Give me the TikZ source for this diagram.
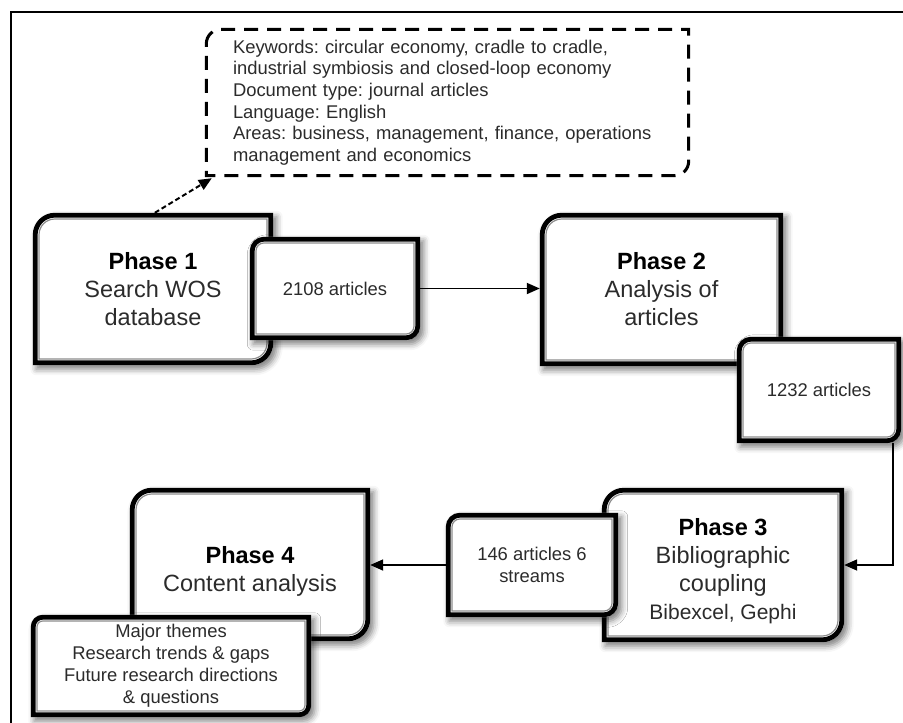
\documentclass[tikz,border=0pt]{standalone}
\usepackage{fontspec}
\setmainfont{Liberation Sans}
\usetikzlibrary{calc,arrows.meta,backgrounds,shadows.blur}
\definecolor{txt}{HTML}{2B2B2B}
\definecolor{innerline}{HTML}{8C8C8C}
\frenchspacing
\tikzset{
  big/.style={font=\fontsize{23.5}{28}\selectfont, text=txt, align=center, inner sep=0pt},
  small/.style={font=\fontsize{18.4}{22}\selectfont, text=txt, align=center, inner sep=0pt},
  kwtext/.style={font=\fontsize{18.4}{21.6}\selectfont, text=txt, align=left, inner sep=0pt, text width=429pt},
  arr/.style={line width=1.8pt, -{Triangle[length=13pt,width=11pt]}},
  dasharr/.style={line width=2pt, dash pattern=on 5pt off 3pt, -{Triangle[length=13pt,width=11pt]}},
  kwframe/.style={line width=3pt, dash pattern=on 14pt off 9pt},
  thickline/.style={line width=4.8pt, black},
  innerrule/.style={line width=1.2pt, innerline},
  boxshadow/.style={blur shadow={shadow xshift=3.5pt, shadow yshift=-4pt, shadow blur radius=6pt, shadow opacity=50}},
}
% path with rounded top-left and bottom-right corners, inset #3
\newcommand\myfpath[3]{($(#1.north west)+(#3,-#2)$) arc[start angle=180,end angle=90,radius=#2pt-#3pt] -- ($(#1.north east)+(-#3,-#3)$) -- ($(#1.south east)+(-#3,#2)$) arc[start angle=0,end angle=-90,radius=#2pt-#3pt] -- ($(#1.south west)+(#3,#3)$) -- cycle}
\newcommand\myphaseframe[2]{%
  \path[boxshadow, fill=white] \myfpath{#1}{#2}{0};
  \draw[thickline] \myfpath{#1}{#2}{2.4};
  \draw[innerrule] \myfpath{#1}{#2}{6.2};
}
\begin{document}
\begin{tikzpicture}[x=1pt,y=1pt]
\useasboundingbox (0,0) rectangle (903,-723);
% outer frame (cropped)
\draw[line width=2pt] (11,-723) -- (11,-12) -- (903,-12);

% nodes
\node[big, minimum width=240pt, minimum height=152pt] (p1) at (153,-289) {\textcolor{black}{\textbf{Phase 1}}\\Search WOS\\database};
\node[small, minimum width=170pt, minimum height=103pt] (a2108) at (335,-288.5) {2108 articles};
\node[big, minimum width=243pt, minimum height=153pt] (p2) at (661.5,-289.5) {\textcolor{black}{\textbf{Phase 2}}\\Analysis of\\articles};
\node[small, minimum width=164pt, minimum height=106pt] (a1232) at (819,-390) {1232 articles};
\node[big, minimum width=242pt, minimum height=154pt] (p3) at (723,-565) {\rule{0pt}{29pt}\textcolor{black}{\textbf{Phase 3}}\\Bibliographic\\coupling\\{\fontsize{21}{26}\selectfont Bibexcel, Gephi}};
\node[small, minimum width=172pt, minimum height=104pt] (a146) at (532,-565) {146 articles 6\\streams};
\node[big, minimum width=240pt, minimum height=153pt] (p4) at (250,-564.5) {\rule{0pt}{31pt}\textcolor{black}{\textbf{Phase 4}}\\Content analysis};
\node[small, minimum width=280pt, minimum height=102pt] (themes) at (171,-666) {Major themes\\Research trends \& gaps\\Future research directions\\\& questions};
\node[kwtext, minimum width=485pt, minimum height=149pt] (kw) at (447.5,-102.5) {Keywords: circular economy, cradle to cradle,\\industrial symbiosis and closed-loop economy\\Document type: journal articles\\Language: English\\Areas: business, management, finance, operations\\management and economics};

% frames behind text
\begin{scope}[on background layer]
  \myphaseframe{p1}{22}
  \myphaseframe{a2108}{14}
  \myphaseframe{p2}{22}
  \myphaseframe{a1232}{14}
  \myphaseframe{p3}{22}
  \myphaseframe{a146}{14}
  \myphaseframe{p4}{22}
  \myphaseframe{themes}{12}
  \draw[kwframe] \myfpath{kw}{16}{1.5};
\end{scope}

% connectors
\draw[dasharr] ([xshift=122pt]p1.north west) -- ([xshift=7pt,yshift=-1pt]kw.south west);
\draw[arr] (a2108.east) -- (a2108.east -| p2.west);
\draw[arr] ([xshift=-8pt]a1232.south east) |- (p3.east);
\draw[arr] (a146.west) -- (a146.west -| p4.east);
\end{tikzpicture}
\end{document}
